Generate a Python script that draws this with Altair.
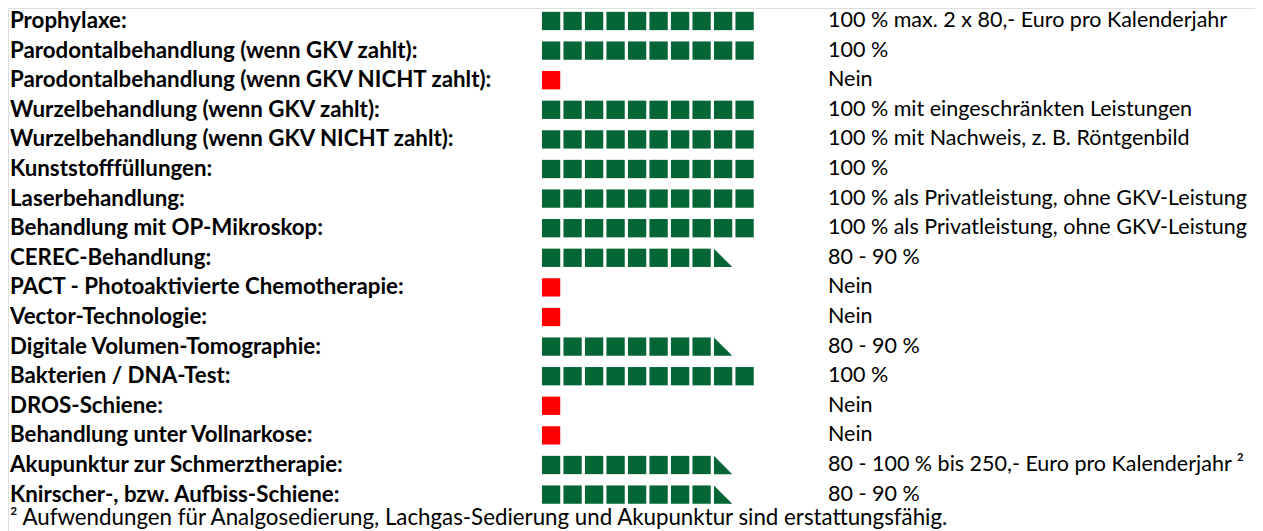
import altair as alt
import pandas as pd

labels = [
    "Prophylaxe:",
    "Parodontalbehandlung (wenn GKV zahlt):",
    "Parodontalbehandlung (wenn GKV NICHT zahlt):",
    "Wurzelbehandlung (wenn GKV zahlt):",
    "Wurzelbehandlung (wenn GKV NICHT zahlt):",
    "Kunststofffüllungen:",
    "Laserbehandlung:",
    "Behandlung mit OP-Mikroskop:",
    "CEREC-Behandlung:",
    "PACT - Photoaktivierte Chemotherapie:",
    "Vector-Technologie:",
    "Digitale Volumen-Tomographie:",
    "Bakterien / DNA-Test:",
    "DROS-Schiene:",
    "Behandlung unter Vollnarkose:",
    "Akupunktur zur Schmerztherapie:",
    "Knirscher-, bzw. Aufbiss-Schiene:",
]
# number of blocks (10 = 100 %, 8.5 = 8 blocks + triangle, 0 = "Nein")
coverage = [10, 10, 0, 10, 10, 10, 10, 10, 8.5, 0, 0, 8.5, 10, 0, 0, 8.5, 8.5]
details = [
    "100 % max. 2 x 80,- Euro pro Kalenderjahr",
    "100 %",
    "Nein",
    "100 % mit eingeschränkten Leistungen",
    "100 % mit Nachweis, z. B. Röntgenbild",
    "100 %",
    "100 % als Privatleistung, ohne GKV-Leistung",
    "100 % als Privatleistung, ohne GKV-Leistung",
    "80 - 90 %",
    "Nein",
    "Nein",
    "80 - 90 %",
    "100 %",
    "Nein",
    "Nein",
    "80 - 100 % bis 250,- Euro pro Kalenderjahr ²",
    "80 - 90 %",
]
footnote = "² Aufwendungen für Analgosedierung, Lachgas-Sedierung und Akupunktur sind erstattungsfähig."

GREEN = "#046535"
RED = "#FF0000"
FONT = "Lato"

blocks, tris = [], []
for i, c in enumerate(coverage):
    full = int(c)
    if c == 0:
        blocks.append(dict(row=i, k=0, kind="nein"))
    for k in range(full):
        blocks.append(dict(row=i, k=k, kind="voll"))
    if c - full > 0:
        tris.append(dict(row=i, k=full))

blocks = pd.DataFrame(blocks)
tris = pd.DataFrame(tris)
lab_df = pd.DataFrame({"row": list(range(len(labels))), "text": labels})
det_df = pd.DataFrame({"row": list(range(len(details))), "text": details})
foot_df = pd.DataFrame({"row": [16.8], "text": [footnote]})

W, H = 1247, 523
xs = alt.Scale(domain=[-25.26, 32.74], nice=False, zero=False)
ys = alt.Scale(domain=[-0.439, (H - 13) / 29.6], nice=False, zero=False, reverse=True)

hw, hh = 0.4256, 0.309
rects = alt.Chart(blocks).transform_calculate(
    x0=f"datum.k - {hw}", x1=f"datum.k + {hw}",
    y0=f"datum.row - {hh}", y1=f"datum.row + {hh}",
).mark_rect(opacity=1).encode(
    x=alt.X("x0:Q", scale=xs, axis=None),
    x2="x1:Q",
    y=alt.Y("y0:Q", scale=ys, axis=None),
    y2="y1:Q",
    color=alt.Color("kind:N", scale=alt.Scale(domain=["voll", "nein"], range=[GREEN, RED]), legend=None),
)

tri = alt.Chart(tris).mark_point(
    shape="M -1 -1 L -1 1 L 1 1 Z", filled=True, size=335, opacity=1, color=GREEN, strokeWidth=0
).encode(
    x=alt.X("k:Q", scale=xs, axis=None),
    y=alt.Y("row:Q", scale=ys, axis=None),
)

lab = alt.Chart(lab_df).transform_calculate(x="-25.167").mark_text(
    align="left", baseline="middle", font=FONT, fontWeight="bold", fontSize=22.3, color="black"
).encode(
    x=alt.X("x:Q", scale=xs, axis=None),
    y=alt.Y("row:Q", scale=ys, axis=None),
    text="text:N",
)

det = alt.Chart(det_df).transform_calculate(x="12.88").mark_text(
    align="left", baseline="middle", font=FONT, fontSize=21.5, color="black"
).encode(
    x=alt.X("x:Q", scale=xs, axis=None),
    y=alt.Y("row:Q", scale=ys, axis=None),
    text="text:N",
)

foot = alt.Chart(foot_df).transform_calculate(x="-25.167").mark_text(
    align="left", baseline="middle", font=FONT, fontSize=22.3, color="black"
).encode(
    x=alt.X("x:Q", scale=xs, axis=None),
    y=alt.Y("row:Q", scale=ys, axis=None),
    text="text:N",
)

chart = alt.layer(rects, tri, lab, det, foot).properties(
    width=W, height=H, padding=0, autosize=alt.AutoSizeParams(type="none")
).configure_view(stroke="transparent", strokeWidth=0).configure(background="white")

chart.save("out.html", embed_options={"renderer": "svg", "actions": False})
